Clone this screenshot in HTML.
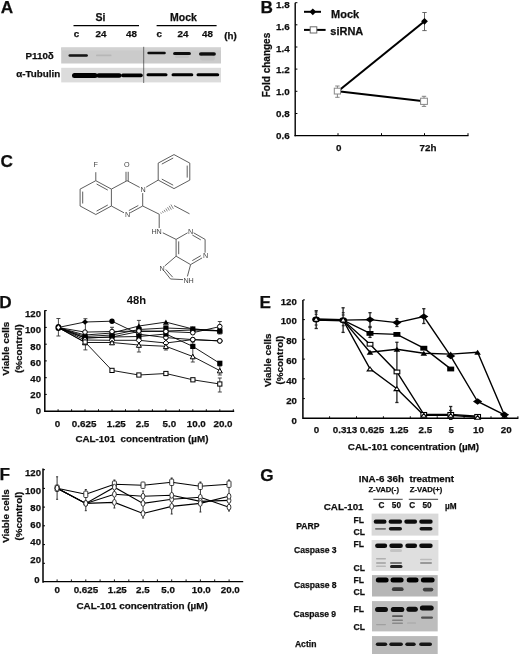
<!DOCTYPE html><html><head><meta charset="utf-8"><style>html,body{margin:0;padding:0;background:#fff;width:520px;height:654px;overflow:hidden}svg{display:block;font-family:"Liberation Sans",sans-serif}</style></head><body>
<svg width="520" height="654" viewBox="0 0 520 654">
<defs><filter id="bl" x="-20%" y="-100%" width="140%" height="300%"><feGaussianBlur stdDeviation="0.65"/></filter><filter id="bl2" x="-20%" y="-100%" width="140%" height="300%"><feGaussianBlur stdDeviation="1.0"/></filter><filter id="gb" x="0" y="0" width="520" height="654" filterUnits="userSpaceOnUse"><feGaussianBlur stdDeviation="0.35"/></filter></defs>
<rect width="520" height="654" fill="#fff"/><g filter="url(#gb)">
<text x="0.8" y="13" font-size="17.2" text-anchor="start" font-weight="bold" fill="#111" stroke="#111" stroke-width="0.25" >A</text>
<text x="100.5" y="21.3" font-size="10.5" text-anchor="middle" font-weight="bold" fill="#111" stroke="#111" stroke-width="0.25" >Si</text>
<text x="183.4" y="21.3" font-size="10.5" text-anchor="middle" font-weight="bold" fill="#111" stroke="#111" stroke-width="0.25" >Mock</text>
<line x1="73.5" y1="25.6" x2="139" y2="25.6" stroke="#000" stroke-width="1.4" />
<line x1="156.6" y1="25.6" x2="216.6" y2="25.6" stroke="#000" stroke-width="1.4" />
<text x="76.5" y="37.2" font-size="9.8" text-anchor="middle" font-weight="bold" fill="#111" stroke="#111" stroke-width="0.25" >c</text>
<text x="101" y="37.2" font-size="9.8" text-anchor="middle" font-weight="bold" fill="#111" stroke="#111" stroke-width="0.25" >24</text>
<text x="131.5" y="37.2" font-size="9.8" text-anchor="middle" font-weight="bold" fill="#111" stroke="#111" stroke-width="0.25" >48</text>
<text x="159.3" y="37.2" font-size="9.8" text-anchor="middle" font-weight="bold" fill="#111" stroke="#111" stroke-width="0.25" >c</text>
<text x="183" y="37.2" font-size="9.8" text-anchor="middle" font-weight="bold" fill="#111" stroke="#111" stroke-width="0.25" >24</text>
<text x="207.4" y="37.2" font-size="9.8" text-anchor="middle" font-weight="bold" fill="#111" stroke="#111" stroke-width="0.25" >48</text>
<text x="230.6" y="38.8" font-size="9.8" text-anchor="middle" font-weight="bold" fill="#111" stroke="#111" stroke-width="0.25" >(h)</text>
<text x="53.8" y="59.2" font-size="9.8" text-anchor="end" font-weight="bold" fill="#111" stroke="#111" stroke-width="0.25" >P110δ</text>
<text x="60.2" y="77.3" font-size="9.8" text-anchor="end" font-weight="bold" fill="#111" stroke="#111" stroke-width="0.25" >α-Tubulin</text>
<rect x="61.2" y="47.5" width="159.8" height="16" fill="#cbcbcb" />
<rect x="61.2" y="47.5" width="159.8" height="3" fill="#d2d2d2" />
<rect x="61.2" y="67.8" width="159.8" height="14.6" fill="#dcdcdc" />
<line x1="143.7" y1="46.8" x2="143.7" y2="83" stroke="#3a3a3a" stroke-width="0.7" />
<g filter="url(#bl)">
<rect x="68.5" y="54.2" width="19.4" height="2.6" rx="1.3" fill="#141414" opacity="1"/>
<rect x="96" y="54.6" width="15.5" height="1.6" rx="0.8" fill="#999" opacity="0.4"/>
<rect x="147.3" y="51.7" width="18.5" height="2.6" rx="1.3" fill="#111" opacity="1"/>
<rect x="173.1" y="51.9" width="17.8" height="3.2" rx="1.6" fill="#0e0e0e" opacity="1"/>
<rect x="175" y="55" width="14" height="3" rx="1.5" fill="#aaa" opacity="0.3"/>
<rect x="199" y="52.2" width="16.9" height="3.6" rx="1.8" fill="#0e0e0e" opacity="1"/>
<rect x="200" y="55.5" width="15" height="5" rx="2.5" fill="#aaa" opacity="0.3"/>
<rect x="72" y="73" width="25.5" height="5" rx="2.5" fill="#000" opacity="1"/>
<rect x="96.5" y="73.3" width="25" height="4.4" rx="2.2" fill="#000" opacity="1"/>
<rect x="121" y="73.6" width="21.8" height="3.6" rx="1.8" fill="#000" opacity="1"/>
<rect x="146.5" y="73.3" width="21" height="3" rx="1.5" fill="#000" opacity="1"/>
<rect x="171.5" y="73.3" width="21.8" height="3" rx="1.5" fill="#000" opacity="1"/>
<rect x="196.5" y="73.3" width="22.7" height="3" rx="1.5" fill="#000" opacity="1"/>
</g>
<text x="260.6" y="12.8" font-size="17.2" text-anchor="start" font-weight="bold" fill="#111" stroke="#111" stroke-width="0.25" >B</text>
<line x1="295.2" y1="2.7" x2="295.2" y2="136.2" stroke="#000" stroke-width="1.4" />
<line x1="294.5" y1="135.6" x2="468.5" y2="135.6" stroke="#000" stroke-width="1.4" />
<line x1="295.2" y1="2.7" x2="297.4" y2="2.7" stroke="#000" stroke-width="1" />
<text x="289.6" y="8.3" font-size="9.8" text-anchor="end" font-weight="bold" fill="#111" stroke="#111" stroke-width="0.25" >1.8</text>
<line x1="295.2" y1="24.8" x2="297.4" y2="24.8" stroke="#000" stroke-width="1" />
<text x="289.6" y="30" font-size="9.8" text-anchor="end" font-weight="bold" fill="#111" stroke="#111" stroke-width="0.25" >1.6</text>
<line x1="295.2" y1="47" x2="297.4" y2="47" stroke="#000" stroke-width="1" />
<text x="289.6" y="51.7" font-size="9.8" text-anchor="end" font-weight="bold" fill="#111" stroke="#111" stroke-width="0.25" >1.4</text>
<line x1="295.2" y1="69.1" x2="297.4" y2="69.1" stroke="#000" stroke-width="1" />
<text x="289.6" y="73.4" font-size="9.8" text-anchor="end" font-weight="bold" fill="#111" stroke="#111" stroke-width="0.25" >1.2</text>
<line x1="295.2" y1="91.3" x2="297.4" y2="91.3" stroke="#000" stroke-width="1" />
<text x="289.6" y="95.1" font-size="9.8" text-anchor="end" font-weight="bold" fill="#111" stroke="#111" stroke-width="0.25" >1.0</text>
<line x1="295.2" y1="113.5" x2="297.4" y2="113.5" stroke="#000" stroke-width="1" />
<text x="289.6" y="116.8" font-size="9.8" text-anchor="end" font-weight="bold" fill="#111" stroke="#111" stroke-width="0.25" >0.8</text>
<text x="289.6" y="138.5" font-size="9.8" text-anchor="end" font-weight="bold" fill="#111" stroke="#111" stroke-width="0.25" >0.6</text>
<line x1="338" y1="135.6" x2="338" y2="133.2" stroke="#000" stroke-width="1" />
<line x1="381.5" y1="135.6" x2="381.5" y2="133.2" stroke="#000" stroke-width="1" />
<line x1="424.5" y1="135.6" x2="424.5" y2="133.2" stroke="#000" stroke-width="1" />
<line x1="468" y1="135.6" x2="468" y2="133.2" stroke="#000" stroke-width="1" />
<text x="338.7" y="151.2" font-size="9.8" text-anchor="middle" font-weight="bold" fill="#111" stroke="#111" stroke-width="0.25" >0</text>
<text x="428" y="151.2" font-size="9.8" text-anchor="middle" font-weight="bold" fill="#111" stroke="#111" stroke-width="0.25" >72h</text>
<text x="266" y="65" font-size="10" text-anchor="middle" font-weight="bold" fill="#111" stroke="#111" stroke-width="0.25" transform="rotate(-90 266 65)" dy="3.5">Fold changes</text>
<line x1="304" y1="11.8" x2="321" y2="11.8" stroke="#000" stroke-width="2" />
<polygon points="312.8,8.4 316.2,11.8 312.8,15.2 309.4,11.8" fill="#000"/>
<text x="331" y="17.7" font-size="11" text-anchor="start" font-weight="bold" fill="#111" stroke="#111" stroke-width="0.25" >Mock</text>
<line x1="304" y1="29.9" x2="325.6" y2="29.9" stroke="#000" stroke-width="2" />
<rect x="310.2" y="26.8" width="6.6" height="6.2" fill="#fff" stroke="#6a6a6a" stroke-width="1"/>
<text x="330.3" y="35.2" font-size="11" text-anchor="start" font-weight="bold" fill="#111" stroke="#111" stroke-width="0.25" >siRNA</text>
<line x1="338" y1="91.2" x2="424.5" y2="21.3" stroke="#000" stroke-width="2.1" />
<line x1="338" y1="91.2" x2="424" y2="101.3" stroke="#000" stroke-width="2.1" />
<line x1="424.5" y1="12.5" x2="424.5" y2="30.6" stroke="#555" stroke-width="0.9" />
<line x1="422.3" y1="12.5" x2="426.7" y2="12.5" stroke="#555" stroke-width="0.9" />
<line x1="422.3" y1="30.6" x2="426.7" y2="30.6" stroke="#555" stroke-width="0.9" />
<polygon points="424.5,17.9 427.9,21.3 424.5,24.7 421.1,21.3" fill="#000"/>
<line x1="337.4" y1="86" x2="337.4" y2="97.3" stroke="#777" stroke-width="0.9" />
<line x1="335.2" y1="86" x2="339.6" y2="86" stroke="#777" stroke-width="0.9" />
<line x1="335.2" y1="97.3" x2="339.6" y2="97.3" stroke="#777" stroke-width="0.9" />
<rect x="334.3" y="88.2" width="6.2" height="5.8" fill="#fff" stroke="#888" stroke-width="1"/>
<line x1="424" y1="96.3" x2="424" y2="106.4" stroke="#777" stroke-width="0.9" />
<line x1="421.8" y1="96.3" x2="426.2" y2="96.3" stroke="#777" stroke-width="0.9" />
<line x1="421.8" y1="106.4" x2="426.2" y2="106.4" stroke="#777" stroke-width="0.9" />
<rect x="420.6" y="98.2" width="6.8" height="6.2" fill="#fff" stroke="#888" stroke-width="1"/>
<text x="0.4" y="167" font-size="17.2" text-anchor="start" font-weight="bold" fill="#111" stroke="#111" stroke-width="0.25" >C</text>
<g stroke="#555" stroke-width="0.95" fill="none">
<line x1="95.8" y1="180.7" x2="111.4" y2="189.1"/>
<line x1="111.4" y1="189.1" x2="111.4" y2="206"/>
<line x1="111.4" y1="206" x2="95.8" y2="214.5"/>
<line x1="95.8" y1="214.5" x2="80.1" y2="206"/>
<line x1="80.1" y1="206" x2="80.1" y2="189.1"/>
<line x1="80.1" y1="189.1" x2="95.8" y2="180.7"/>
<line x1="82.7" y1="203.5" x2="82.7" y2="191.6"/>
<line x1="107.8" y1="205" x2="96.6" y2="211.1"/>
<line x1="96.6" y1="184" x2="107.8" y2="190.1"/>
<line x1="127.1" y1="180.7" x2="139.7" y2="187.4"/>
<line x1="142.7" y1="193.1" x2="142.7" y2="206"/>
<line x1="142.7" y1="206" x2="130.2" y2="212.8"/>
<line x1="138.3" y1="205.5" x2="128.8" y2="210.6"/>
<line x1="124" y1="212.8" x2="111.4" y2="206"/>
<line x1="111.4" y1="189.1" x2="127.1" y2="180.7"/>
<line x1="126" y1="181" x2="126" y2="171.8"/>
<line x1="128.2" y1="181.2" x2="128.2" y2="171.8"/>
<line x1="95.8" y1="180.7" x2="95.8" y2="172.2"/>
<line x1="146.2" y1="187.1" x2="158.2" y2="180.1"/>
<line x1="174" y1="154.6" x2="189.8" y2="163.1"/>
<line x1="189.8" y1="163.1" x2="189.8" y2="180.1"/>
<line x1="189.8" y1="180.1" x2="174" y2="188.6"/>
<line x1="174" y1="188.6" x2="158.2" y2="180.1"/>
<line x1="158.2" y1="180.1" x2="158.2" y2="163.1"/>
<line x1="158.2" y1="163.1" x2="174" y2="154.6"/>
<line x1="161.8" y1="164.1" x2="173.2" y2="158"/>
<line x1="187.2" y1="165.6" x2="187.2" y2="177.6"/>
<line x1="173.2" y1="185.2" x2="161.8" y2="179.1"/>
<line x1="142.7" y1="206" x2="159.2" y2="214.2"/>
<line x1="160.7" y1="212.5" x2="161.4" y2="213.7" stroke-width="0.7"/>
<line x1="162.4" y1="211.2" x2="163.4" y2="212.9" stroke-width="0.7"/>
<line x1="164.1" y1="209.9" x2="165.4" y2="212.1" stroke-width="0.7"/>
<line x1="165.8" y1="208.5" x2="167.4" y2="211.3" stroke-width="0.7"/>
<line x1="167.5" y1="207.2" x2="169.4" y2="210.5" stroke-width="0.7"/>
<line x1="169.2" y1="205.8" x2="171.4" y2="209.7" stroke-width="0.7"/>
<line x1="170.9" y1="204.5" x2="173.4" y2="208.8" stroke-width="0.7"/>
<line x1="174" y1="205.6" x2="189.5" y2="213.8"/>
<line x1="159.2" y1="214.2" x2="159.2" y2="228"/>
<line x1="162.8" y1="232.8" x2="176.1" y2="239.4"/>
<line x1="176.1" y1="239.4" x2="187.6" y2="232.8"/>
<line x1="193.6" y1="232.8" x2="205.1" y2="239.4"/>
<line x1="192.3" y1="235" x2="200.8" y2="239.9"/>
<line x1="205.1" y1="239.4" x2="205.1" y2="252.7"/>
<line x1="202.1" y1="257.9" x2="190.6" y2="264.6"/>
<line x1="200.8" y1="255.7" x2="192.3" y2="260.6"/>
<line x1="190.6" y1="264.6" x2="176.1" y2="256.2"/>
<line x1="176.1" y1="256.2" x2="176.1" y2="239.4"/>
<line x1="178.7" y1="254.2" x2="178.7" y2="241.4"/>
<line x1="176.1" y1="256.2" x2="164.7" y2="266"/>
<line x1="164.2" y1="271" x2="170.5" y2="279"/>
<line x1="165.8" y1="269.5" x2="172.7" y2="277.2"/>
<line x1="170.5" y1="279" x2="183" y2="279.6"/>
<line x1="190.6" y1="264.6" x2="187.4" y2="276.4"/>
</g>
<g fill="#444" font-size="7.2" font-weight="normal" text-anchor="middle">
<text x="95.8" y="167">F</text>
<text x="126.7" y="167.3">O</text>
<text x="143.2" y="191.8">N</text>
<text x="127.6" y="217.4">N</text>
<text x="156.6" y="234.2">HN</text>
<text x="190.6" y="233.8">N</text>
<text x="205.6" y="258.4">N</text>
<text x="162" y="270.8">N</text>
<text x="188.6" y="282.6">NH</text>
</g>
<text x="-0.8" y="307.7" font-size="17.2" text-anchor="start" font-weight="bold" fill="#111" stroke="#111" stroke-width="0.25" >D</text>
<text transform="matrix(1.1,0,0,1,136.5,304.4)" font-size="10.2" text-anchor="middle" font-weight="bold" fill="#111">48h</text>
<line x1="44.8" y1="310.3" x2="44.8" y2="411.9" stroke="#000" stroke-width="1.5" />
<line x1="44.8" y1="310.6" x2="46.8" y2="310.6" stroke="#000" stroke-width="1" />
<text x="41" y="317" font-size="9.6" text-anchor="end" font-weight="bold" fill="#111" stroke="#111" stroke-width="0.25" >120</text>
<line x1="44.8" y1="327.4" x2="46.8" y2="327.4" stroke="#000" stroke-width="1" />
<text x="41" y="333.2" font-size="9.6" text-anchor="end" font-weight="bold" fill="#111" stroke="#111" stroke-width="0.25" >100</text>
<line x1="44.8" y1="344.2" x2="46.8" y2="344.2" stroke="#000" stroke-width="1" />
<text x="41" y="349.5" font-size="9.6" text-anchor="end" font-weight="bold" fill="#111" stroke="#111" stroke-width="0.25" >80</text>
<line x1="44.8" y1="360.9" x2="46.8" y2="360.9" stroke="#000" stroke-width="1" />
<text x="41" y="365.7" font-size="9.6" text-anchor="end" font-weight="bold" fill="#111" stroke="#111" stroke-width="0.25" >60</text>
<line x1="44.8" y1="377.7" x2="46.8" y2="377.7" stroke="#000" stroke-width="1" />
<text x="41" y="381.9" font-size="9.6" text-anchor="end" font-weight="bold" fill="#111" stroke="#111" stroke-width="0.25" >40</text>
<line x1="44.8" y1="394.4" x2="46.8" y2="394.4" stroke="#000" stroke-width="1" />
<text x="41" y="398.1" font-size="9.6" text-anchor="end" font-weight="bold" fill="#111" stroke="#111" stroke-width="0.25" >20</text>
<text x="41" y="414.4" font-size="9.6" text-anchor="end" font-weight="bold" fill="#111" stroke="#111" stroke-width="0.25" >0</text>
<line x1="45" y1="411.2" x2="234.2" y2="411.2" stroke="#000" stroke-width="1.4" />
<line x1="58.1" y1="411.2" x2="58.1" y2="409.2" stroke="#000" stroke-width="0.9" />
<line x1="71.6" y1="411.2" x2="71.6" y2="409.2" stroke="#000" stroke-width="0.9" />
<line x1="85" y1="411.2" x2="85" y2="409.2" stroke="#000" stroke-width="0.9" />
<line x1="98.5" y1="411.2" x2="98.5" y2="409.2" stroke="#000" stroke-width="0.9" />
<line x1="112" y1="411.2" x2="112" y2="409.2" stroke="#000" stroke-width="0.9" />
<line x1="125.5" y1="411.2" x2="125.5" y2="409.2" stroke="#000" stroke-width="0.9" />
<line x1="138.9" y1="411.2" x2="138.9" y2="409.2" stroke="#000" stroke-width="0.9" />
<line x1="152.4" y1="411.2" x2="152.4" y2="409.2" stroke="#000" stroke-width="0.9" />
<line x1="165.9" y1="411.2" x2="165.9" y2="409.2" stroke="#000" stroke-width="0.9" />
<line x1="179.4" y1="411.2" x2="179.4" y2="409.2" stroke="#000" stroke-width="0.9" />
<line x1="192.8" y1="411.2" x2="192.8" y2="409.2" stroke="#000" stroke-width="0.9" />
<line x1="206.3" y1="411.2" x2="206.3" y2="409.2" stroke="#000" stroke-width="0.9" />
<line x1="219.8" y1="411.2" x2="219.8" y2="409.2" stroke="#000" stroke-width="0.9" />
<line x1="233.3" y1="411.2" x2="233.3" y2="409.2" stroke="#000" stroke-width="0.9" />
<text x="57.5" y="427.4" font-size="9.8" text-anchor="middle" font-weight="bold" fill="#111" stroke="#111" stroke-width="0.25" >0</text>
<text x="84.1" y="427.4" font-size="9.8" text-anchor="middle" font-weight="bold" fill="#111" stroke="#111" stroke-width="0.25" >0.625</text>
<text x="116.3" y="427.4" font-size="9.8" text-anchor="middle" font-weight="bold" fill="#111" stroke="#111" stroke-width="0.25" >1.25</text>
<text x="142.5" y="427.4" font-size="9.8" text-anchor="middle" font-weight="bold" fill="#111" stroke="#111" stroke-width="0.25" >2.5</text>
<text x="169.4" y="427.4" font-size="9.8" text-anchor="middle" font-weight="bold" fill="#111" stroke="#111" stroke-width="0.25" >5.0</text>
<text x="196.3" y="427.4" font-size="9.8" text-anchor="middle" font-weight="bold" fill="#111" stroke="#111" stroke-width="0.25" >10.0</text>
<text x="223" y="427.4" font-size="9.8" text-anchor="middle" font-weight="bold" fill="#111" stroke="#111" stroke-width="0.25" >20.0</text>
<text x="75.4" y="442" font-size="9.8" text-anchor="start" font-weight="bold" fill="#111" stroke="#111" stroke-width="0.25" >CAL-101&#160; concentration (µM)</text>
<text x="6" y="348.6" font-size="9.9" text-anchor="middle" font-weight="bold" fill="#111" stroke="#111" stroke-width="0.25" transform="rotate(-90 6 348.6)" dy="3.5">Viable cells</text>
<text x="18.3" y="348.6" font-size="9.9" text-anchor="middle" font-weight="bold" fill="#111" stroke="#111" stroke-width="0.25" transform="rotate(-90 18.3 348.6)" dy="3.5">(%control)</text>
<polyline points="58.1,327.5 85,322 112,321.2 138.9,334.2 165.9,337.6 192.8,339.6 219.8,340.9" fill="none" stroke="#000" stroke-width="0.9"/>
<polyline points="58.1,327.5 85,335 112,333 138.9,326 165.9,322.1 192.8,329 219.8,330.8" fill="none" stroke="#000" stroke-width="0.9"/>
<polyline points="58.1,327.5 85,336.5 112,335 138.9,329.5 165.9,328 192.8,329 219.8,330.8" fill="none" stroke="#000" stroke-width="0.9"/>
<polyline points="58.1,327.5 85,338 112,337 138.9,331.5 165.9,331 192.8,330 219.8,331" fill="none" stroke="#000" stroke-width="0.9"/>
<polyline points="58.1,327.5 85,338 112,337 138.9,336.5 165.9,334 192.8,346.4 219.8,363.3" fill="none" stroke="#000" stroke-width="0.9"/>
<polyline points="58.1,327.5 85,340 112,340.3 138.9,340.3 165.9,343 192.8,339.6 219.8,340.9" fill="none" stroke="#000" stroke-width="0.9"/>
<polyline points="58.1,327.5 85,332.1 112,331.5 138.9,331 165.9,331.5 192.8,332.7 219.8,326.6" fill="none" stroke="#000" stroke-width="0.9"/>
<polyline points="58.1,327.5 85,342.5 112,342.5 138.9,345 165.9,346.3 192.8,356.5 219.8,370.6" fill="none" stroke="#000" stroke-width="0.9"/>
<polyline points="58.1,327.5 85,342 112,370.4 138.9,375 165.9,373.5 192.8,379.8 219.8,384" fill="none" stroke="#000" stroke-width="0.9"/>
<line x1="58.4" y1="318.5" x2="58.4" y2="336" stroke="#333" stroke-width="0.9" />
<line x1="56.4" y1="318.5" x2="60.4" y2="318.5" stroke="#333" stroke-width="0.9" />
<line x1="56.4" y1="336" x2="60.4" y2="336" stroke="#333" stroke-width="0.9" />
<line x1="85.4" y1="318.7" x2="85.4" y2="349.9" stroke="#333" stroke-width="0.9" />
<line x1="83.4" y1="318.7" x2="87.4" y2="318.7" stroke="#333" stroke-width="0.9" />
<line x1="83.4" y1="349.9" x2="87.4" y2="349.9" stroke="#333" stroke-width="0.9" />
<line x1="112" y1="327.3" x2="112" y2="344" stroke="#333" stroke-width="0.9" />
<line x1="110" y1="327.3" x2="114" y2="327.3" stroke="#333" stroke-width="0.9" />
<line x1="110" y1="344" x2="114" y2="344" stroke="#333" stroke-width="0.9" />
<line x1="138.9" y1="320.4" x2="138.9" y2="352" stroke="#333" stroke-width="0.9" />
<line x1="136.9" y1="320.4" x2="140.9" y2="320.4" stroke="#333" stroke-width="0.9" />
<line x1="136.9" y1="352" x2="140.9" y2="352" stroke="#333" stroke-width="0.9" />
<line x1="165.9" y1="327" x2="165.9" y2="350" stroke="#333" stroke-width="0.9" />
<line x1="163.9" y1="327" x2="167.9" y2="327" stroke="#333" stroke-width="0.9" />
<line x1="163.9" y1="350" x2="167.9" y2="350" stroke="#333" stroke-width="0.9" />
<line x1="192.8" y1="342" x2="192.8" y2="362" stroke="#333" stroke-width="0.9" />
<line x1="190.8" y1="342" x2="194.8" y2="342" stroke="#333" stroke-width="0.9" />
<line x1="190.8" y1="362" x2="194.8" y2="362" stroke="#333" stroke-width="0.9" />
<line x1="219.8" y1="321.5" x2="219.8" y2="334" stroke="#333" stroke-width="0.9" />
<line x1="217.8" y1="321.5" x2="221.8" y2="321.5" stroke="#333" stroke-width="0.9" />
<line x1="217.8" y1="334" x2="221.8" y2="334" stroke="#333" stroke-width="0.9" />
<line x1="219.8" y1="366" x2="219.8" y2="375" stroke="#333" stroke-width="0.9" />
<line x1="217.8" y1="366" x2="221.8" y2="366" stroke="#333" stroke-width="0.9" />
<line x1="217.8" y1="375" x2="221.8" y2="375" stroke="#333" stroke-width="0.9" />
<line x1="219.8" y1="378" x2="219.8" y2="392" stroke="#333" stroke-width="0.9" />
<line x1="217.8" y1="378" x2="221.8" y2="378" stroke="#333" stroke-width="0.9" />
<line x1="217.8" y1="392" x2="221.8" y2="392" stroke="#333" stroke-width="0.9" />
<polygon points="85,319.3 88,322 85,324.7 82,322" fill="#000"/>
<ellipse cx="112" cy="321.2" rx="2.7" ry="2.7" fill="#000"/>
<ellipse cx="138.9" cy="334.2" rx="2.3" ry="2.3" fill="#fff" stroke="#000" stroke-width="1.0"/>
<ellipse cx="165.9" cy="337.6" rx="2.3" ry="2.3" fill="#fff" stroke="#000" stroke-width="1.0"/>
<ellipse cx="192.8" cy="339.6" rx="2.3" ry="2.3" fill="#fff" stroke="#000" stroke-width="1.0"/>
<ellipse cx="219.8" cy="340.9" rx="2.3" ry="2.3" fill="#fff" stroke="#000" stroke-width="1.0"/>
<polygon points="85,332.3 88,337.7 82,337.7" fill="#000"/>
<polygon points="112,330.3 115,335.7 109,335.7" fill="#000"/>
<polygon points="138.9,323.3 141.9,328.7 135.9,328.7" fill="#000"/>
<polygon points="165.9,319.4 168.9,324.8 162.9,324.8" fill="#000"/>
<polygon points="192.8,326.3 195.8,331.7 189.8,331.7" fill="#000"/>
<polygon points="219.8,328.1 222.8,333.5 216.8,333.5" fill="#000"/>
<rect x="82.5" y="333.9" width="5.2" height="5.2" fill="#000"/>
<rect x="109.4" y="332.4" width="5.2" height="5.2" fill="#000"/>
<rect x="136.3" y="326.9" width="5.2" height="5.2" fill="#000"/>
<rect x="163.3" y="325.4" width="5.2" height="5.2" fill="#000"/>
<rect x="190.2" y="326.4" width="5.2" height="5.2" fill="#000"/>
<rect x="217.2" y="328.2" width="5.2" height="5.2" fill="#000"/>
<polygon points="85,335.3 88,338 85,340.7 82,338" fill="#000"/>
<polygon points="112,334.3 115,337 112,339.7 109,337" fill="#000"/>
<polygon points="138.9,328.8 141.9,331.5 138.9,334.2 135.9,331.5" fill="#000"/>
<polygon points="165.9,328.3 168.9,331 165.9,333.7 162.9,331" fill="#000"/>
<polygon points="192.8,327.3 195.8,330 192.8,332.7 189.8,330" fill="#000"/>
<polygon points="219.8,328.3 222.8,331 219.8,333.7 216.8,331" fill="#000"/>
<rect x="82.5" y="335.4" width="5.2" height="5.2" fill="#000"/>
<rect x="109.4" y="334.4" width="5.2" height="5.2" fill="#000"/>
<rect x="136.3" y="333.9" width="5.2" height="5.2" fill="#000"/>
<rect x="163.3" y="331.4" width="5.2" height="5.2" fill="#000"/>
<rect x="190.2" y="343.8" width="5.2" height="5.2" fill="#000"/>
<rect x="217.2" y="360.7" width="5.2" height="5.2" fill="#000"/>
<polygon points="85,337.2 88,340 85,342.8 82,340" fill="#fff" stroke="#000" stroke-width="1.0"/>
<polygon points="112,337.5 115,340.3 112,343.1 109,340.3" fill="#fff" stroke="#000" stroke-width="1.0"/>
<polygon points="138.9,337.5 141.9,340.3 138.9,343.1 135.9,340.3" fill="#fff" stroke="#000" stroke-width="1.0"/>
<polygon points="165.9,340.2 168.9,343 165.9,345.8 162.9,343" fill="#fff" stroke="#000" stroke-width="1.0"/>
<ellipse cx="192.8" cy="339.6" rx="2.3" ry="2.3" fill="#fff" stroke="#000" stroke-width="1.0"/>
<ellipse cx="219.8" cy="340.9" rx="2.3" ry="2.3" fill="#fff" stroke="#000" stroke-width="1.0"/>
<ellipse cx="85" cy="332.1" rx="2.3" ry="2.3" fill="#fff" stroke="#000" stroke-width="1.0"/>
<ellipse cx="112" cy="331.5" rx="2.3" ry="2.3" fill="#fff" stroke="#000" stroke-width="1.0"/>
<ellipse cx="138.9" cy="331" rx="2.3" ry="2.3" fill="#fff" stroke="#000" stroke-width="1.0"/>
<ellipse cx="165.9" cy="331.5" rx="2.3" ry="2.3" fill="#fff" stroke="#000" stroke-width="1.0"/>
<ellipse cx="192.8" cy="332.7" rx="2.3" ry="2.3" fill="#fff" stroke="#000" stroke-width="1.0"/>
<ellipse cx="219.8" cy="326.6" rx="2.3" ry="2.3" fill="#fff" stroke="#000" stroke-width="1.0"/>
<polygon points="85,340.2 87.5,344.8 82.5,344.8" fill="#fff" stroke="#000" stroke-width="1.0"/>
<polygon points="112,340.2 114.5,344.8 109.5,344.8" fill="#fff" stroke="#000" stroke-width="1.0"/>
<polygon points="138.9,342.7 141.4,347.3 136.4,347.3" fill="#fff" stroke="#000" stroke-width="1.0"/>
<polygon points="165.9,344 168.4,348.6 163.4,348.6" fill="#fff" stroke="#000" stroke-width="1.0"/>
<polygon points="192.8,354.2 195.3,358.8 190.3,358.8" fill="#fff" stroke="#000" stroke-width="1.0"/>
<polygon points="219.8,368.3 222.3,372.9 217.3,372.9" fill="#fff" stroke="#000" stroke-width="1.0"/>
<rect x="83" y="339.9" width="4.2" height="4.2" fill="#fff" stroke="#000" stroke-width="1.0"/>
<rect x="109.9" y="368.3" width="4.2" height="4.2" fill="#fff" stroke="#000" stroke-width="1.0"/>
<rect x="136.8" y="372.9" width="4.2" height="4.2" fill="#fff" stroke="#000" stroke-width="1.0"/>
<rect x="163.8" y="371.4" width="4.2" height="4.2" fill="#fff" stroke="#000" stroke-width="1.0"/>
<rect x="190.8" y="377.7" width="4.2" height="4.2" fill="#fff" stroke="#000" stroke-width="1.0"/>
<rect x="217.7" y="381.9" width="4.2" height="4.2" fill="#fff" stroke="#000" stroke-width="1.0"/>
<ellipse cx="58.4" cy="327.5" rx="3.0" ry="3.6" fill="#000"/>
<polygon points="58.4,325.2 60.2,327.5 58.4,329.8 56.6,327.5" fill="#fff"/>
<text x="259.6" y="307.8" font-size="17.2" text-anchor="start" font-weight="bold" fill="#111" stroke="#111" stroke-width="0.25" >E</text>
<line x1="302.9" y1="299.9" x2="302.9" y2="419" stroke="#000" stroke-width="1.5" />
<line x1="302.9" y1="299.9" x2="304.9" y2="299.9" stroke="#000" stroke-width="1" />
<text x="296.8" y="304.5" font-size="9.6" text-anchor="end" font-weight="bold" fill="#111" stroke="#111" stroke-width="0.25" >120</text>
<line x1="302.9" y1="319.6" x2="304.9" y2="319.6" stroke="#000" stroke-width="1" />
<text x="296.8" y="324.4" font-size="9.6" text-anchor="end" font-weight="bold" fill="#111" stroke="#111" stroke-width="0.25" >100</text>
<line x1="302.9" y1="339.3" x2="304.9" y2="339.3" stroke="#000" stroke-width="1" />
<text x="296.8" y="344.2" font-size="9.6" text-anchor="end" font-weight="bold" fill="#111" stroke="#111" stroke-width="0.25" >80</text>
<line x1="302.9" y1="359.1" x2="304.9" y2="359.1" stroke="#000" stroke-width="1" />
<text x="296.8" y="364.1" font-size="9.6" text-anchor="end" font-weight="bold" fill="#111" stroke="#111" stroke-width="0.25" >60</text>
<line x1="302.9" y1="378.8" x2="304.9" y2="378.8" stroke="#000" stroke-width="1" />
<text x="296.8" y="383.9" font-size="9.6" text-anchor="end" font-weight="bold" fill="#111" stroke="#111" stroke-width="0.25" >40</text>
<line x1="302.9" y1="398.6" x2="304.9" y2="398.6" stroke="#000" stroke-width="1" />
<text x="296.8" y="403.8" font-size="9.6" text-anchor="end" font-weight="bold" fill="#111" stroke="#111" stroke-width="0.25" >20</text>
<text x="296.8" y="423.6" font-size="9.6" text-anchor="end" font-weight="bold" fill="#111" stroke="#111" stroke-width="0.25" >0</text>
<line x1="303" y1="418.3" x2="518.4" y2="418.3" stroke="#000" stroke-width="1.4" />
<line x1="329.6" y1="418.3" x2="329.6" y2="416.2" stroke="#000" stroke-width="0.9" />
<line x1="356.5" y1="418.3" x2="356.5" y2="416.2" stroke="#000" stroke-width="0.9" />
<line x1="383.4" y1="418.3" x2="383.4" y2="416.2" stroke="#000" stroke-width="0.9" />
<line x1="410.3" y1="418.3" x2="410.3" y2="416.2" stroke="#000" stroke-width="0.9" />
<line x1="437.2" y1="418.3" x2="437.2" y2="416.2" stroke="#000" stroke-width="0.9" />
<line x1="464.1" y1="418.3" x2="464.1" y2="416.2" stroke="#000" stroke-width="0.9" />
<line x1="491" y1="418.3" x2="491" y2="416.2" stroke="#000" stroke-width="0.9" />
<line x1="517.9" y1="418.3" x2="517.9" y2="416.2" stroke="#000" stroke-width="0.9" />
<text x="316.5" y="433.2" font-size="9.8" text-anchor="middle" font-weight="bold" fill="#111" stroke="#111" stroke-width="0.25" >0</text>
<text x="345" y="433.2" font-size="9.8" text-anchor="middle" font-weight="bold" fill="#111" stroke="#111" stroke-width="0.25" >0.313</text>
<text x="372" y="433.2" font-size="9.8" text-anchor="middle" font-weight="bold" fill="#111" stroke="#111" stroke-width="0.25" >0.625</text>
<text x="399" y="433.2" font-size="9.8" text-anchor="middle" font-weight="bold" fill="#111" stroke="#111" stroke-width="0.25" >1.25</text>
<text x="425.4" y="433.2" font-size="9.8" text-anchor="middle" font-weight="bold" fill="#111" stroke="#111" stroke-width="0.25" >2.5</text>
<text x="451.3" y="433.2" font-size="9.8" text-anchor="middle" font-weight="bold" fill="#111" stroke="#111" stroke-width="0.25" >5</text>
<text x="478.5" y="433.2" font-size="9.8" text-anchor="middle" font-weight="bold" fill="#111" stroke="#111" stroke-width="0.25" >10</text>
<text x="506.2" y="433.2" font-size="9.8" text-anchor="middle" font-weight="bold" fill="#111" stroke="#111" stroke-width="0.25" >20</text>
<text x="347.8" y="449.6" font-size="9.9" text-anchor="start" font-weight="bold" fill="#111" stroke="#111" stroke-width="0.25" >CAL-101 concentration (µM)</text>
<text x="267.4" y="360.3" font-size="9.9" text-anchor="middle" font-weight="bold" fill="#111" stroke="#111" stroke-width="0.25" transform="rotate(-90 267.4 360.3)" dy="3.5">Viable cells</text>
<text x="279.2" y="360.1" font-size="9.9" text-anchor="middle" font-weight="bold" fill="#111" stroke="#111" stroke-width="0.25" transform="rotate(-90 279.2 360.1)" dy="3.5">(%control)</text>
<polyline points="316.2,319.6 343.1,320.1 370,319.6 396.9,322.6 423.8,316.6 450.7,356.1 477.6,401.5 504.5,414.8" fill="none" stroke="#000" stroke-width="1.4"/>
<polyline points="316.2,319.6 343.1,320.1 370,333.4 396.9,334.4 423.8,348.2 450.7,368.9" fill="none" stroke="#000" stroke-width="1.4"/>
<polyline points="316.2,319.6 343.1,320.1 370,352.2 396.9,349.2 423.8,353.2 450.7,354.1 477.6,352.2 504.5,415.3" fill="none" stroke="#000" stroke-width="1.4"/>
<polyline points="316.2,319.6 343.1,320.1 370,344.3 396.9,371.9 423.8,414.4 450.7,414.4 477.6,416.3" fill="none" stroke="#000" stroke-width="1.4"/>
<polyline points="316.2,319.6 343.1,320.1 370,368.9 396.9,388.7 423.8,415.3 450.7,415.3 477.6,417.3" fill="none" stroke="#000" stroke-width="1.4"/>
<line x1="316.2" y1="310.7" x2="316.2" y2="328.5" stroke="#222" stroke-width="1.3" />
<line x1="314.6" y1="310.7" x2="317.8" y2="310.7" stroke="#222" stroke-width="1.3" />
<line x1="314.6" y1="328.5" x2="317.8" y2="328.5" stroke="#222" stroke-width="1.3" />
<line x1="343.1" y1="307.8" x2="343.1" y2="332.4" stroke="#222" stroke-width="1.3" />
<line x1="341.5" y1="307.8" x2="344.7" y2="307.8" stroke="#222" stroke-width="1.3" />
<line x1="341.5" y1="332.4" x2="344.7" y2="332.4" stroke="#222" stroke-width="1.3" />
<line x1="370" y1="312.7" x2="370" y2="326.5" stroke="#222" stroke-width="1.3" />
<line x1="368.4" y1="312.7" x2="371.6" y2="312.7" stroke="#222" stroke-width="1.3" />
<line x1="368.4" y1="326.5" x2="371.6" y2="326.5" stroke="#222" stroke-width="1.3" />
<line x1="370" y1="327.5" x2="370" y2="337.4" stroke="#222" stroke-width="1.3" />
<line x1="368.4" y1="327.5" x2="371.6" y2="327.5" stroke="#222" stroke-width="1.3" />
<line x1="368.4" y1="337.4" x2="371.6" y2="337.4" stroke="#222" stroke-width="1.3" />
<line x1="396.9" y1="318.6" x2="396.9" y2="326.5" stroke="#222" stroke-width="1.3" />
<line x1="395.3" y1="318.6" x2="398.5" y2="318.6" stroke="#222" stroke-width="1.3" />
<line x1="395.3" y1="326.5" x2="398.5" y2="326.5" stroke="#222" stroke-width="1.3" />
<line x1="396.9" y1="342.3" x2="396.9" y2="402.5" stroke="#222" stroke-width="1.3" />
<line x1="395.3" y1="342.3" x2="398.5" y2="342.3" stroke="#222" stroke-width="1.3" />
<line x1="395.3" y1="402.5" x2="398.5" y2="402.5" stroke="#222" stroke-width="1.3" />
<line x1="423.8" y1="308.7" x2="423.8" y2="323.5" stroke="#222" stroke-width="1.3" />
<line x1="422.2" y1="308.7" x2="425.4" y2="308.7" stroke="#222" stroke-width="1.3" />
<line x1="422.2" y1="323.5" x2="425.4" y2="323.5" stroke="#222" stroke-width="1.3" />
<line x1="450.7" y1="406.5" x2="450.7" y2="419.3" stroke="#222" stroke-width="1.3" />
<line x1="449.1" y1="406.5" x2="452.3" y2="406.5" stroke="#222" stroke-width="1.3" />
<line x1="449.1" y1="419.3" x2="452.3" y2="419.3" stroke="#222" stroke-width="1.3" />
<line x1="450.7" y1="410.4" x2="450.7" y2="419.3" stroke="#222" stroke-width="1.3" />
<line x1="449.1" y1="410.4" x2="452.3" y2="410.4" stroke="#222" stroke-width="1.3" />
<line x1="449.1" y1="419.3" x2="452.3" y2="419.3" stroke="#222" stroke-width="1.3" />
<polygon points="370,316.4 374.6,319.6 370,322.8 365.4,319.6" fill="#000"/>
<polygon points="396.9,319.4 401.5,322.6 396.9,325.8 392.3,322.6" fill="#000"/>
<polygon points="423.8,313.4 428.4,316.6 423.8,319.8 419.2,316.6" fill="#000"/>
<polygon points="450.7,352.9 455.3,356.1 450.7,359.3 446.1,356.1" fill="#000"/>
<polygon points="477.6,398.3 482.2,401.5 477.6,404.7 473,401.5" fill="#000"/>
<polygon points="504.5,411.6 509.1,414.8 504.5,418 499.9,414.8" fill="#000"/>
<rect x="366.5" y="331" width="7" height="4.8" fill="#000"/>
<rect x="393.4" y="332" width="7" height="4.8" fill="#000"/>
<rect x="420.3" y="345.8" width="7" height="4.8" fill="#000"/>
<rect x="447.2" y="366.6" width="7" height="4.8" fill="#000"/>
<polygon points="370,349.7 373.3,354.7 366.7,354.7" fill="#000"/>
<polygon points="396.9,346.7 400.2,351.7 393.6,351.7" fill="#000"/>
<polygon points="423.8,350.7 427.1,355.7 420.5,355.7" fill="#000"/>
<polygon points="450.7,351.6 454,356.6 447.4,356.6" fill="#000"/>
<polygon points="477.6,349.7 480.9,354.7 474.3,354.7" fill="#000"/>
<polygon points="504.5,412.8 507.8,417.8 501.2,417.8" fill="#000"/>
<rect x="367.2" y="342.4" width="5.7" height="3.7" fill="#fff" stroke="#000" stroke-width="1.1"/>
<rect x="394.1" y="370.1" width="5.7" height="3.7" fill="#fff" stroke="#000" stroke-width="1.1"/>
<rect x="420.9" y="412.5" width="5.7" height="3.7" fill="#fff" stroke="#000" stroke-width="1.1"/>
<rect x="447.9" y="412.5" width="5.7" height="3.7" fill="#fff" stroke="#000" stroke-width="1.1"/>
<rect x="474.8" y="414.5" width="5.7" height="3.7" fill="#fff" stroke="#000" stroke-width="1.1"/>
<polygon points="370,367 372.8,370.9 367.2,370.9" fill="#fff" stroke="#000" stroke-width="1.1"/>
<polygon points="396.9,386.7 399.6,390.6 394.1,390.6" fill="#fff" stroke="#000" stroke-width="1.1"/>
<polygon points="423.8,413.4 426.5,417.3 421,417.3" fill="#fff" stroke="#000" stroke-width="1.1"/>
<polygon points="450.7,413.4 453.4,417.3 447.9,417.3" fill="#fff" stroke="#000" stroke-width="1.1"/>
<polygon points="477.6,415.4 480.3,419.3 474.8,419.3" fill="#fff" stroke="#000" stroke-width="1.1"/>
<line x1="316.2" y1="319.5" x2="343.2" y2="320.2" stroke="#000" stroke-width="2.6" />
<line x1="314.7" y1="314.3" x2="317.5" y2="314.3" stroke="#222" stroke-width="1.2" />
<line x1="314.7" y1="312" x2="317.5" y2="312" stroke="#222" stroke-width="1.2" />
<line x1="314.7" y1="325" x2="317.5" y2="325" stroke="#222" stroke-width="1.2" />
<ellipse cx="316.1" cy="319.5" rx="3.9" ry="3.0" fill="#000"/>
<polygon points="316.1,317.9 318,320.8 314.2,320.8" fill="#fff"/>
<line x1="341.8" y1="315" x2="344.6" y2="315" stroke="#222" stroke-width="1.2" />
<line x1="341.8" y1="312.7" x2="344.6" y2="312.7" stroke="#222" stroke-width="1.2" />
<line x1="341.8" y1="325.7" x2="344.6" y2="325.7" stroke="#222" stroke-width="1.2" />
<ellipse cx="343.2" cy="320.2" rx="3.9" ry="3.0" fill="#000"/>
<polygon points="343.2,318.6 345.1,321.5 341.3,321.5" fill="#fff"/>
<text x="-0.6" y="480.4" font-size="17.2" text-anchor="start" font-weight="bold" fill="#111" stroke="#111" stroke-width="0.25" >F</text>
<line x1="43" y1="468.5" x2="43" y2="582.7" stroke="#000" stroke-width="1.5" />
<line x1="43" y1="469.7" x2="45" y2="469.7" stroke="#000" stroke-width="1" />
<text x="41" y="476.1" font-size="9.6" text-anchor="end" font-weight="bold" fill="#111" stroke="#111" stroke-width="0.25" >120</text>
<line x1="43" y1="488.4" x2="45" y2="488.4" stroke="#000" stroke-width="1" />
<text x="41" y="493.5" font-size="9.6" text-anchor="end" font-weight="bold" fill="#111" stroke="#111" stroke-width="0.25" >100</text>
<line x1="43" y1="507.1" x2="45" y2="507.1" stroke="#000" stroke-width="1" />
<text x="41" y="510.8" font-size="9.6" text-anchor="end" font-weight="bold" fill="#111" stroke="#111" stroke-width="0.25" >80</text>
<line x1="43" y1="525.8" x2="45" y2="525.8" stroke="#000" stroke-width="1" />
<text x="41" y="528" font-size="9.6" text-anchor="end" font-weight="bold" fill="#111" stroke="#111" stroke-width="0.25" >60</text>
<line x1="43" y1="544.6" x2="45" y2="544.6" stroke="#000" stroke-width="1" />
<text x="41" y="545.4" font-size="9.6" text-anchor="end" font-weight="bold" fill="#111" stroke="#111" stroke-width="0.25" >40</text>
<line x1="43" y1="563.3" x2="45" y2="563.3" stroke="#000" stroke-width="1" />
<text x="41" y="562.5" font-size="9.6" text-anchor="end" font-weight="bold" fill="#111" stroke="#111" stroke-width="0.25" >20</text>
<text x="39.6" y="582.9" font-size="9.6" text-anchor="end" font-weight="bold" fill="#111" stroke="#111" stroke-width="0.25" >0</text>
<line x1="43" y1="581.6" x2="243.2" y2="581.6" stroke="#000" stroke-width="1.4" />
<line x1="57.1" y1="581.6" x2="57.1" y2="579.4" stroke="#000" stroke-width="0.9" />
<line x1="71.4" y1="581.6" x2="71.4" y2="579.4" stroke="#000" stroke-width="0.9" />
<line x1="85.8" y1="581.6" x2="85.8" y2="579.4" stroke="#000" stroke-width="0.9" />
<line x1="100.1" y1="581.6" x2="100.1" y2="579.4" stroke="#000" stroke-width="0.9" />
<line x1="114.4" y1="581.6" x2="114.4" y2="579.4" stroke="#000" stroke-width="0.9" />
<line x1="128.8" y1="581.6" x2="128.8" y2="579.4" stroke="#000" stroke-width="0.9" />
<line x1="143.1" y1="581.6" x2="143.1" y2="579.4" stroke="#000" stroke-width="0.9" />
<line x1="157.4" y1="581.6" x2="157.4" y2="579.4" stroke="#000" stroke-width="0.9" />
<line x1="171.7" y1="581.6" x2="171.7" y2="579.4" stroke="#000" stroke-width="0.9" />
<line x1="186.1" y1="581.6" x2="186.1" y2="579.4" stroke="#000" stroke-width="0.9" />
<line x1="200.4" y1="581.6" x2="200.4" y2="579.4" stroke="#000" stroke-width="0.9" />
<line x1="214.7" y1="581.6" x2="214.7" y2="579.4" stroke="#000" stroke-width="0.9" />
<line x1="229.1" y1="581.6" x2="229.1" y2="579.4" stroke="#000" stroke-width="0.9" />
<text x="57.3" y="592.7" font-size="9.8" text-anchor="middle" font-weight="bold" fill="#111" stroke="#111" stroke-width="0.25" >0</text>
<text x="85.9" y="592.7" font-size="9.8" text-anchor="middle" font-weight="bold" fill="#111" stroke="#111" stroke-width="0.25" >0.625</text>
<text x="117.3" y="592.7" font-size="9.8" text-anchor="middle" font-weight="bold" fill="#111" stroke="#111" stroke-width="0.25" >1.25</text>
<text x="142.9" y="592.7" font-size="9.8" text-anchor="middle" font-weight="bold" fill="#111" stroke="#111" stroke-width="0.25" >2.5</text>
<text x="168.1" y="592.7" font-size="9.8" text-anchor="middle" font-weight="bold" fill="#111" stroke="#111" stroke-width="0.25" >5.0</text>
<text x="201.3" y="592.7" font-size="9.8" text-anchor="middle" font-weight="bold" fill="#111" stroke="#111" stroke-width="0.25" >10.0</text>
<text x="230.3" y="592.7" font-size="9.8" text-anchor="middle" font-weight="bold" fill="#111" stroke="#111" stroke-width="0.25" >20.0</text>
<text x="76.4" y="609.4" font-size="9.9" text-anchor="start" font-weight="bold" fill="#111" stroke="#111" stroke-width="0.25" >CAL-101 concentration (µM)</text>
<text x="5.2" y="516" font-size="9.9" text-anchor="middle" font-weight="bold" fill="#111" stroke="#111" stroke-width="0.25" transform="rotate(-90 5.2 516)" dy="3.5">Viable cells</text>
<text x="18.3" y="516.2" font-size="9.9" text-anchor="middle" font-weight="bold" fill="#111" stroke="#111" stroke-width="0.25" transform="rotate(-90 18.3 516.2)" dy="3.5">(%control)</text>
<polyline points="57.1,488.2 85.8,494.3 114.4,484.2 143,485.2 171.7,482.3 200.3,486.3 229,484.2" fill="none" stroke="#000" stroke-width="1.1"/>
<polyline points="57.1,488.2 85.8,503.4 114.4,487.2 143,503.4 171.7,499.3 200.3,497.3 229,507.2" fill="none" stroke="#000" stroke-width="1.1"/>
<polyline points="57.1,488.2 85.8,503.4 114.4,494.3 143,496.3 171.7,495.3 200.3,501.4 229,500.4" fill="none" stroke="#000" stroke-width="1.1"/>
<polyline points="57.1,488.2 85.8,503.4 114.4,502.4 143,513.5 171.7,506.4 200.3,503.4 229,496.3" fill="none" stroke="#000" stroke-width="1.1"/>
<line x1="57.1" y1="476.8" x2="57.1" y2="499.3" stroke="#333" stroke-width="1.0" />
<line x1="56.1" y1="476.8" x2="58.1" y2="476.8" stroke="#333" stroke-width="1.0" />
<line x1="56.1" y1="499.3" x2="58.1" y2="499.3" stroke="#333" stroke-width="1.0" />
<line x1="85.8" y1="489.5" x2="85.8" y2="510.7" stroke="#333" stroke-width="1.0" />
<line x1="84.8" y1="489.5" x2="86.8" y2="489.5" stroke="#333" stroke-width="1.0" />
<line x1="84.8" y1="510.7" x2="86.8" y2="510.7" stroke="#333" stroke-width="1.0" />
<line x1="114.4" y1="480" x2="114.4" y2="508" stroke="#333" stroke-width="1.0" />
<line x1="113.4" y1="480" x2="115.4" y2="480" stroke="#333" stroke-width="1.0" />
<line x1="113.4" y1="508" x2="115.4" y2="508" stroke="#333" stroke-width="1.0" />
<line x1="143.1" y1="491" x2="143.1" y2="518" stroke="#333" stroke-width="1.0" />
<line x1="142.1" y1="491" x2="144.1" y2="491" stroke="#333" stroke-width="1.0" />
<line x1="142.1" y1="518" x2="144.1" y2="518" stroke="#333" stroke-width="1.0" />
<line x1="171.7" y1="478" x2="171.7" y2="514" stroke="#333" stroke-width="1.0" />
<line x1="170.7" y1="478" x2="172.7" y2="478" stroke="#333" stroke-width="1.0" />
<line x1="170.7" y1="514" x2="172.7" y2="514" stroke="#333" stroke-width="1.0" />
<line x1="200.4" y1="482" x2="200.4" y2="512" stroke="#333" stroke-width="1.0" />
<line x1="199.4" y1="482" x2="201.4" y2="482" stroke="#333" stroke-width="1.0" />
<line x1="199.4" y1="512" x2="201.4" y2="512" stroke="#333" stroke-width="1.0" />
<line x1="229" y1="480" x2="229" y2="511" stroke="#333" stroke-width="1.0" />
<line x1="228" y1="480" x2="230" y2="480" stroke="#333" stroke-width="1.0" />
<line x1="228" y1="511" x2="230" y2="511" stroke="#333" stroke-width="1.0" />
<rect x="55.1" y="485" width="4.0" height="6.4" rx="0.8" fill="#fff" stroke="#222" stroke-width="0.9"/>
<rect x="83.8" y="491.1" width="4.0" height="6.4" rx="0.8" fill="#fff" stroke="#222" stroke-width="0.9"/>
<rect x="112.4" y="481" width="4.0" height="6.4" rx="0.8" fill="#fff" stroke="#222" stroke-width="0.9"/>
<rect x="141" y="482" width="4.0" height="6.4" rx="0.8" fill="#fff" stroke="#222" stroke-width="0.9"/>
<rect x="169.7" y="479.1" width="4.0" height="6.4" rx="0.8" fill="#fff" stroke="#222" stroke-width="0.9"/>
<rect x="198.3" y="483.1" width="4.0" height="6.4" rx="0.8" fill="#fff" stroke="#222" stroke-width="0.9"/>
<rect x="227" y="481" width="4.0" height="6.4" rx="0.8" fill="#fff" stroke="#222" stroke-width="0.9"/>
<ellipse cx="57.1" cy="488.2" rx="1.9" ry="2.9" fill="#fff" stroke="#222" stroke-width="0.9"/>
<ellipse cx="85.8" cy="503.4" rx="1.9" ry="2.9" fill="#fff" stroke="#222" stroke-width="0.9"/>
<ellipse cx="114.4" cy="487.2" rx="1.9" ry="2.9" fill="#fff" stroke="#222" stroke-width="0.9"/>
<ellipse cx="143" cy="503.4" rx="1.9" ry="2.9" fill="#fff" stroke="#222" stroke-width="0.9"/>
<ellipse cx="171.7" cy="499.3" rx="1.9" ry="2.9" fill="#fff" stroke="#222" stroke-width="0.9"/>
<ellipse cx="200.3" cy="497.3" rx="1.9" ry="2.9" fill="#fff" stroke="#222" stroke-width="0.9"/>
<ellipse cx="229" cy="507.2" rx="1.9" ry="2.9" fill="#fff" stroke="#222" stroke-width="0.9"/>
<ellipse cx="57.1" cy="488.2" rx="1.9" ry="2.9" fill="#fff" stroke="#222" stroke-width="0.9"/>
<ellipse cx="85.8" cy="503.4" rx="1.9" ry="2.9" fill="#fff" stroke="#222" stroke-width="0.9"/>
<ellipse cx="114.4" cy="494.3" rx="1.9" ry="2.9" fill="#fff" stroke="#222" stroke-width="0.9"/>
<ellipse cx="143" cy="496.3" rx="1.9" ry="2.9" fill="#fff" stroke="#222" stroke-width="0.9"/>
<ellipse cx="171.7" cy="495.3" rx="1.9" ry="2.9" fill="#fff" stroke="#222" stroke-width="0.9"/>
<ellipse cx="200.3" cy="501.4" rx="1.9" ry="2.9" fill="#fff" stroke="#222" stroke-width="0.9"/>
<ellipse cx="229" cy="500.4" rx="1.9" ry="2.9" fill="#fff" stroke="#222" stroke-width="0.9"/>
<ellipse cx="57.1" cy="488.2" rx="1.9" ry="2.9" fill="#fff" stroke="#222" stroke-width="0.9"/>
<ellipse cx="85.8" cy="503.4" rx="1.9" ry="2.9" fill="#fff" stroke="#222" stroke-width="0.9"/>
<ellipse cx="114.4" cy="502.4" rx="1.9" ry="2.9" fill="#fff" stroke="#222" stroke-width="0.9"/>
<ellipse cx="143" cy="513.5" rx="1.9" ry="2.9" fill="#fff" stroke="#222" stroke-width="0.9"/>
<ellipse cx="171.7" cy="506.4" rx="1.9" ry="2.9" fill="#fff" stroke="#222" stroke-width="0.9"/>
<ellipse cx="200.3" cy="503.4" rx="1.9" ry="2.9" fill="#fff" stroke="#222" stroke-width="0.9"/>
<ellipse cx="229" cy="496.3" rx="1.9" ry="2.9" fill="#fff" stroke="#222" stroke-width="0.9"/>
<text x="260.2" y="480.8" font-size="17.2" text-anchor="start" font-weight="bold" fill="#111" stroke="#111" stroke-width="0.25" >G</text>
<text x="358.8" y="481.5" font-size="9.8" text-anchor="start" font-weight="bold" fill="#111" stroke="#111" stroke-width="0.25" >INA-6 36h&#160; treatment</text>
<text x="383.7" y="492.4" font-size="7.7" text-anchor="middle" font-weight="bold" fill="#111" stroke="#111" stroke-width="0.25" >Z-VAD(-)</text>
<text x="426.1" y="492.4" font-size="7.7" text-anchor="middle" font-weight="bold" fill="#111" stroke="#111" stroke-width="0.25" >Z-VAD(+)</text>
<line x1="373.3" y1="499.3" x2="402.7" y2="499.3" stroke="#111" stroke-width="0.8" />
<line x1="408.8" y1="499.3" x2="438.1" y2="499.3" stroke="#111" stroke-width="0.8" />
<text x="323.8" y="509.8" font-size="9.8" text-anchor="start" font-weight="bold" fill="#111" stroke="#111" stroke-width="0.25" >CAL-101</text>
<text x="381.4" y="508.3" font-size="8.2" text-anchor="middle" font-weight="bold" fill="#111" stroke="#111" stroke-width="0.25" >C</text>
<text x="396.4" y="508.3" font-size="8.2" text-anchor="middle" font-weight="bold" fill="#111" stroke="#111" stroke-width="0.25" >50</text>
<text x="412.2" y="508.3" font-size="8.2" text-anchor="middle" font-weight="bold" fill="#111" stroke="#111" stroke-width="0.25" >C</text>
<text x="427.1" y="508.3" font-size="8.2" text-anchor="middle" font-weight="bold" fill="#111" stroke="#111" stroke-width="0.25" >50</text>
<text x="450.8" y="508.8" font-size="8.2" text-anchor="middle" font-weight="bold" fill="#111" stroke="#111" stroke-width="0.25" >µM</text>
<text x="296.2" y="529.3" font-size="8.6" text-anchor="start" font-weight="bold" fill="#111" stroke="#111" stroke-width="0.25" >PARP</text>
<text x="294.1" y="552.8" font-size="8.6" text-anchor="start" font-weight="bold" fill="#111" stroke="#111" stroke-width="0.25" >Caspase 3</text>
<text x="294.1" y="588" font-size="8.6" text-anchor="start" font-weight="bold" fill="#111" stroke="#111" stroke-width="0.25" >Caspase 8</text>
<text x="293.6" y="617.4" font-size="8.6" text-anchor="start" font-weight="bold" fill="#111" stroke="#111" stroke-width="0.25" >Caspase 9</text>
<text x="294.9" y="647.1" font-size="8.6" text-anchor="start" font-weight="bold" fill="#111" stroke="#111" stroke-width="0.25" >Actin</text>
<text x="353.6" y="523.1" font-size="8.6" text-anchor="start" font-weight="bold" fill="#111" stroke="#111" stroke-width="0.25" >FL</text>
<text x="353.6" y="534.8" font-size="8.6" text-anchor="start" font-weight="bold" fill="#111" stroke="#111" stroke-width="0.25" >CL</text>
<text x="353.6" y="546.8" font-size="8.6" text-anchor="start" font-weight="bold" fill="#111" stroke="#111" stroke-width="0.25" >FL</text>
<text x="353.6" y="570.5" font-size="8.6" text-anchor="start" font-weight="bold" fill="#111" stroke="#111" stroke-width="0.25" >CL</text>
<text x="353.6" y="582.7" font-size="8.6" text-anchor="start" font-weight="bold" fill="#111" stroke="#111" stroke-width="0.25" >FL</text>
<text x="353.6" y="594.8" font-size="8.6" text-anchor="start" font-weight="bold" fill="#111" stroke="#111" stroke-width="0.25" >CL</text>
<text x="353.6" y="612.2" font-size="8.6" text-anchor="start" font-weight="bold" fill="#111" stroke="#111" stroke-width="0.25" >FL</text>
<text x="353.6" y="630.1" font-size="8.6" text-anchor="start" font-weight="bold" fill="#111" stroke="#111" stroke-width="0.25" >CL</text>
<rect x="371.6" y="513.6" width="66.8" height="22" fill="#d9d9d9" />
<rect x="371.6" y="540" width="66.8" height="30.9" fill="#dfdfdf" />
<rect x="372" y="575.1" width="65.7" height="21.4" fill="#b6b6b6" />
<rect x="372" y="601.1" width="65.7" height="30.3" fill="#bdbdbd" />
<rect x="372" y="636.1" width="65.7" height="18" fill="#b9b9b9" />
<g filter="url(#bl)">
<rect x="373.7" y="519.6" width="12.8" height="4.2" rx="2.1" fill="#111" opacity="1"/>
<rect x="388.6" y="519.6" width="13.5" height="4.2" rx="2.1" fill="#111" opacity="1"/>
<rect x="404.3" y="519.6" width="12.8" height="4.2" rx="2.1" fill="#111" opacity="1"/>
<rect x="419.2" y="519.6" width="13.5" height="4.2" rx="2.1" fill="#111" opacity="1"/>
<rect x="375" y="527.9" width="11" height="1.8" rx="0.9" fill="#555" opacity="0.8"/>
<rect x="388.8" y="527" width="13.2" height="3.6" rx="1.8" fill="#151515" opacity="1"/>
<rect x="419.5" y="527" width="13" height="3.6" rx="1.8" fill="#151515" opacity="1"/>
<rect x="375.1" y="543.4" width="12.1" height="4.6" rx="2.3" fill="#111" opacity="1"/>
<rect x="389.3" y="543.4" width="13.6" height="4.6" rx="2.3" fill="#111" opacity="1"/>
<rect x="405.3" y="543.4" width="11.8" height="4.6" rx="2.3" fill="#111" opacity="1"/>
<rect x="419.2" y="543.4" width="13.5" height="4.6" rx="2.3" fill="#111" opacity="1"/>
<rect x="390" y="549" width="12" height="3" rx="1.5" fill="#bbb" opacity="0.8"/>
<rect x="376" y="558.1" width="10" height="1.4" rx="0.7" fill="#b0b0b0" opacity="1"/>
<rect x="376" y="562.2" width="10" height="1.6" rx="0.8" fill="#a0a0a0" opacity="1"/>
<rect x="376" y="565.5" width="10" height="1.4" rx="0.7" fill="#b8b8b8" opacity="1"/>
<rect x="390" y="562" width="12" height="2" rx="1" fill="#777" opacity="1"/>
<rect x="390" y="565.1" width="12.5" height="3" rx="1.5" fill="#222" opacity="1"/>
<rect x="420" y="558.8" width="12" height="1.4" rx="0.7" fill="#bbb" opacity="1"/>
<rect x="420" y="562" width="12" height="2" rx="1" fill="#999" opacity="1"/>
<rect x="375.8" y="577.6" width="12.8" height="5" rx="2.5" fill="#050505" opacity="1"/>
<rect x="390.5" y="577.6" width="13.1" height="5" rx="2.5" fill="#050505" opacity="1"/>
<rect x="406.7" y="577.6" width="11.8" height="5" rx="2.5" fill="#050505" opacity="1"/>
<rect x="420.9" y="577.6" width="13.7" height="5" rx="2.5" fill="#050505" opacity="1"/>
<rect x="391.9" y="587.3" width="11.7" height="3.8" rx="1.9" fill="#3a3a3a" opacity="1"/>
<rect x="422.8" y="587.8" width="10.6" height="3.6" rx="1.8" fill="#404040" opacity="1"/>
<rect x="375.1" y="607.1" width="12.8" height="5" rx="2.5" fill="#080808" opacity="1"/>
<rect x="390.8" y="606.9" width="13.5" height="5" rx="2.5" fill="#080808" opacity="1"/>
<rect x="406.4" y="606.7" width="11.4" height="5" rx="2.5" fill="#080808" opacity="1"/>
<rect x="419.9" y="605.4" width="13.8" height="5" rx="2.5" fill="#080808" opacity="1"/>
<rect x="392" y="615.2" width="11" height="1.8" rx="0.9" fill="#555" opacity="1"/>
<rect x="392" y="619.6" width="11" height="1.4" rx="0.7" fill="#808080" opacity="1"/>
<rect x="392" y="622.6" width="11" height="1.4" rx="0.7" fill="#8a8a8a" opacity="1"/>
<rect x="421" y="616.4" width="12" height="2.4" rx="1.2" fill="#505050" opacity="1"/>
<rect x="376" y="624" width="10" height="1.2" rx="0.6" fill="#a0a0a0" opacity="1"/>
<rect x="407" y="622.4" width="9" height="1.2" rx="0.6" fill="#a5a5a5" opacity="1"/>
<rect x="375.8" y="642.4" width="11.4" height="3.6" rx="1.8" fill="#151515" opacity="1"/>
<rect x="389.3" y="642.4" width="13.6" height="3.6" rx="1.8" fill="#151515" opacity="1"/>
<rect x="405.3" y="642.4" width="10.4" height="3.6" rx="1.8" fill="#151515" opacity="1"/>
<rect x="419.2" y="642.4" width="12.8" height="3.6" rx="1.8" fill="#151515" opacity="1"/>
</g>
</g></svg></body></html>
